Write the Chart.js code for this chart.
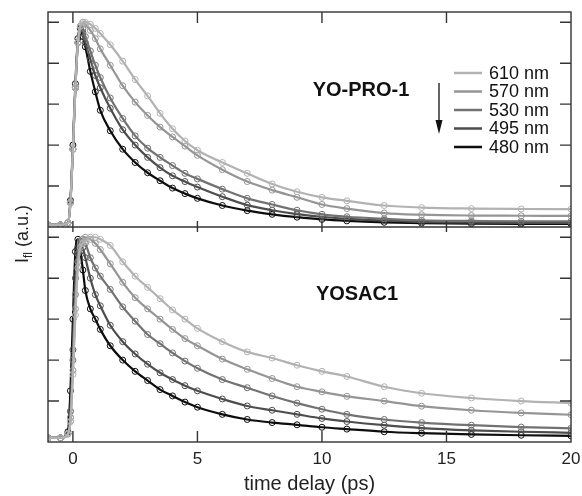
<!DOCTYPE html>
<html>
<head>
<meta charset="utf-8">
<script src="https://cdn.jsdelivr.net/npm/chart.js@4.4.0/dist/chart.umd.min.js"></script>
<style>
  html, body { margin: 0; padding: 0; background: #fff; }
  canvas { display: block; }
</style>
</head>
<body>
<canvas id="decayChart" width="582" height="496"></canvas>
<script>
// time axis (ps), shared by every trace
const times = [-1, -0.5, -0.2, -0.1, 0, 0.1, 0.2, 0.3, 0.4, 0.5, 0.7, 0.9, 1.1, 1.5,
    2, 2.5, 3, 3.5, 4, 4.5, 5, 6, 7, 8, 9, 10, 11, 12.5, 14, 16, 18, 20];

const wavelengths = ['610 nm', '570 nm', '530 nm', '495 nm', '480 nm'];
const shades = ['#b2b2b2', '#959595', '#727272', '#4d4d4d', '#0d0d0d'];

// YO-PRO-1 (top panel)
const yoPro610 = [0.01, 0.01, 0.02, 0.12, 0.38, 0.68, 0.9, 0.98, 1.0, 1.0, 0.99, 0.97, 0.945, 0.89,
    0.81, 0.72, 0.64, 0.555, 0.48, 0.42, 0.375, 0.315, 0.262, 0.21, 0.172, 0.145, 0.128, 0.105, 0.095, 0.09, 0.088, 0.087];
const yoPro570 = [0.01, 0.01, 0.02, 0.12, 0.38, 0.68, 0.9, 0.98, 1.0, 0.99, 0.96, 0.92, 0.87, 0.79,
    0.69, 0.61, 0.545, 0.488, 0.44, 0.395, 0.35, 0.28, 0.222, 0.18, 0.145, 0.11, 0.09, 0.068, 0.06, 0.056, 0.055, 0.054];
const yoPro530 = [0.01, 0.01, 0.02, 0.12, 0.38, 0.68, 0.9, 0.98, 0.97, 0.93, 0.86, 0.79, 0.73, 0.63,
    0.53, 0.445, 0.385, 0.34, 0.3, 0.262, 0.235, 0.185, 0.14, 0.11, 0.082, 0.062, 0.05, 0.04, 0.033, 0.03, 0.028, 0.028];
const yoPro495 = [0.01, 0.01, 0.02, 0.12, 0.38, 0.68, 0.9, 0.97, 0.95, 0.9, 0.82, 0.74, 0.68, 0.58,
    0.475, 0.4, 0.34, 0.29, 0.25, 0.222, 0.195, 0.148, 0.107, 0.082, 0.063, 0.05, 0.04, 0.032, 0.025, 0.022, 0.02, 0.02];
const yoPro480 = [0.01, 0.01, 0.02, 0.13, 0.4, 0.7, 0.92, 0.97, 0.93, 0.88, 0.76, 0.66, 0.57, 0.47,
    0.38, 0.315, 0.265, 0.226, 0.19, 0.163, 0.14, 0.105, 0.08, 0.062, 0.048, 0.037, 0.03, 0.023, 0.019, 0.016, 0.015, 0.015];

// YOSAC1 (bottom panel)
const yosac610 = [0.02, 0.02, 0.04, 0.1, 0.33, 0.62, 0.85, 0.95, 0.97, 0.98, 1.0, 1.0, 0.99, 0.96,
    0.88, 0.81, 0.755, 0.7, 0.645, 0.6, 0.555, 0.49, 0.44, 0.41, 0.375, 0.345, 0.32, 0.27, 0.238, 0.215, 0.2, 0.19];
const yosac570 = [0.02, 0.02, 0.04, 0.1, 0.35, 0.65, 0.88, 0.97, 0.99, 1.0, 0.99, 0.97, 0.94, 0.87,
    0.78, 0.705, 0.65, 0.6, 0.55, 0.505, 0.47, 0.405, 0.355, 0.31, 0.27, 0.245, 0.223, 0.2, 0.175, 0.155, 0.142, 0.133];
const yosac530 = [0.02, 0.02, 0.04, 0.12, 0.4, 0.72, 0.92, 0.98, 0.99, 0.97, 0.9, 0.85, 0.81, 0.745,
    0.66, 0.59, 0.525, 0.48, 0.435, 0.395, 0.36, 0.305, 0.265, 0.225, 0.19, 0.16, 0.135, 0.11, 0.095, 0.082, 0.073, 0.067];
const yosac495 = [0.02, 0.02, 0.04, 0.15, 0.45, 0.8, 0.95, 0.98, 0.95, 0.9, 0.8, 0.72, 0.665, 0.57,
    0.49, 0.43, 0.38, 0.338, 0.305, 0.275, 0.25, 0.21, 0.176, 0.155, 0.135, 0.115, 0.1, 0.082, 0.068, 0.057, 0.05, 0.045];
const yosac480 = [0.02, 0.02, 0.05, 0.25, 0.6, 0.93, 0.99, 0.93, 0.84, 0.74, 0.65, 0.6, 0.55, 0.47,
    0.4, 0.345, 0.3, 0.256, 0.225, 0.195, 0.17, 0.135, 0.11, 0.095, 0.084, 0.072, 0.063, 0.05, 0.043, 0.037, 0.033, 0.03];

const xTickValues = [0, 5, 10, 15];
const yTickValues = [0.2, 0.4, 0.6, 0.8, 1.0];

const FONT = '"Liberation Sans", Arial, Helvetica, sans-serif';


/* Builds one trace (line + open circles) for a panel
*/
const makeTrace = (values, idx, axisId) => ({
    label: wavelengths[idx],
    data: times.map((t, i) => ({ x: t, y: values[i] })),
    yAxisID: axisId,
    borderColor: shades[idx],
    borderWidth: 2.2,
    cubicInterpolationMode: 'monotone',
    pointStyle: 'circle',
    pointRadius: 3,
    pointBorderWidth: 1,
    pointBorderColor: shades[idx],
    pointBackgroundColor: 'rgba(255,255,255,0)',
    fill: false
});


/* Draws the frame, inward ticks, legend and panel labels
*/
const framePlugin = {
    id: 'frame',
    afterDatasetsDraw(chart) {
        const ctx = chart.ctx;
        const x = chart.scales.x;
        const yT = chart.scales.yT;
        const yB = chart.scales.yB;
        const left = chart.chartArea.left, right = chart.chartArea.right;
        const top = yT.top, mid = yT.bottom, bottom = yB.bottom;

        ctx.save();
        ctx.strokeStyle = '#333';
        ctx.lineWidth = 1.4;
        ctx.strokeRect(left, top, right - left, bottom - top);
        ctx.beginPath();
        ctx.moveTo(left, mid);
        ctx.lineTo(right, mid);

        // x ticks: top edge, divider, bottom edge
        xTickValues.forEach(v => {
            const px = x.getPixelForValue(v);
            ctx.moveTo(px, top); ctx.lineTo(px, top + 11);
            ctx.moveTo(px, mid - 6); ctx.lineTo(px, mid + 5);
            ctx.moveTo(px, bottom); ctx.lineTo(px, bottom - 11);
        });

        // y ticks on both sides of both panels
        [yT, yB].forEach(s => {
            yTickValues.forEach(v => {
                const py = s.getPixelForValue(v);
                ctx.moveTo(left, py); ctx.lineTo(left + 11, py);
                ctx.moveTo(right, py); ctx.lineTo(right - 11, py);
            });
        });
        ctx.stroke();

        // panel labels
        ctx.fillStyle = '#111';
        ctx.font = 'bold 20px ' + FONT;
        ctx.textAlign = 'center';
        ctx.textBaseline = 'middle';
        ctx.fillText('YO-PRO-1', 361, 90);
        ctx.fillText('YOSAC1', 357, 294);

        // legend
        ctx.font = '18px ' + FONT;
        ctx.textAlign = 'left';
        wavelengths.forEach((w, i) => {
            const ly = 73 + i * 18.5;
            ctx.strokeStyle = shades[i];
            ctx.lineWidth = 2.5;
            ctx.beginPath();
            ctx.moveTo(454, ly);
            ctx.lineTo(482, ly);
            ctx.stroke();
            ctx.fillStyle = '#111';
            ctx.fillText(w, 489, ly + 1);
        });

        // arrow
        ctx.strokeStyle = '#111';
        ctx.fillStyle = '#111';
        ctx.lineWidth = 1.3;
        ctx.beginPath();
        ctx.moveTo(439, 83);
        ctx.lineTo(439, 122);
        ctx.stroke();
        ctx.beginPath();
        ctx.moveTo(435.5, 120);
        ctx.lineTo(442.5, 120);
        ctx.lineTo(439, 134);
        ctx.closePath();
        ctx.fill();

        // y axis title with subscript
        ctx.translate(22, 234);
        ctx.rotate(-Math.PI / 2);
        ctx.fillStyle = '#222';
        ctx.textBaseline = 'alphabetic';
        const big = '18px ' + FONT, small = '12px ' + FONT;
        ctx.font = big;
        const wI = ctx.measureText('I').width;
        const wRest = ctx.measureText(' (a.u.)').width;
        ctx.font = small;
        const wSub = ctx.measureText('fl').width;
        let cx = -(wI + wSub + wRest) / 2;
        ctx.font = big;
        ctx.fillText('I', cx, 6);
        cx += wI;
        ctx.font = small;
        ctx.fillText('fl', cx, 10);
        cx += wSub;
        ctx.font = big;
        ctx.fillText(' (a.u.)', cx, 6);
        ctx.restore();
    }
};


/* Kicks off the chart build
*/
const init = () => {
    const yoPro = [yoPro610, yoPro570, yoPro530, yoPro495, yoPro480];
    const yosac = [yosac610, yosac570, yosac530, yosac495, yosac480];

    const datasets = [];
    yoPro.forEach((vals, i) => datasets.push(makeTrace(vals, i, 'yT')));
    yosac.forEach((vals, i) => datasets.push(makeTrace(vals, i, 'yB')));

    const panelAxis = {
        type: 'linear',
        position: 'left',
        stack: 'panels',
        stackWeight: 1,
        min: 0,
        max: 1.05,
        ticks: { display: false },
        grid: { display: false, drawTicks: false },
        border: { display: false },
        afterFit: s => { s.width = 0; }
    };

    const config = {
        type: 'line',
        data: { datasets: datasets },
        options: {
            responsive: false,
            animation: false,
            devicePixelRatio: 1,
            layout: { padding: { left: 48, right: 11, top: 12, bottom: 0 } },
            plugins: { legend: { display: false }, tooltip: { enabled: false } },
            scales: {
                x: {
                    type: 'linear',
                    min: -1,
                    max: 20,
                    ticks: {
                        stepSize: 5,
                        includeBounds: false,
                        color: '#222',
                        padding: 7,
                        maxRotation: 0,
                        font: { family: FONT, size: 17 }
                    },
                    grid: { display: false, drawTicks: false },
                    border: { display: false },
                    title: {
                        display: true,
                        text: 'time delay (ps)',
                        color: '#222',
                        padding: { top: 0, bottom: 0 },
                        font: { family: FONT, size: 20 }
                    },
                    afterFit: s => {
                        s.height = 54;
                        s.paddingLeft = 0;
                        s.paddingRight = 0;
                    }
                },
                // bottom panel defined first so the top panel stacks above it
                yB: Object.assign({}, panelAxis),
                yT: Object.assign({}, panelAxis)
            }
        },
        plugins: [framePlugin]
    };

    const ctx = document.getElementById('decayChart').getContext('2d');
    new Chart(ctx, config);
};

document.addEventListener('DOMContentLoaded', () => {
    init();
});
</script>
</body>
</html>
